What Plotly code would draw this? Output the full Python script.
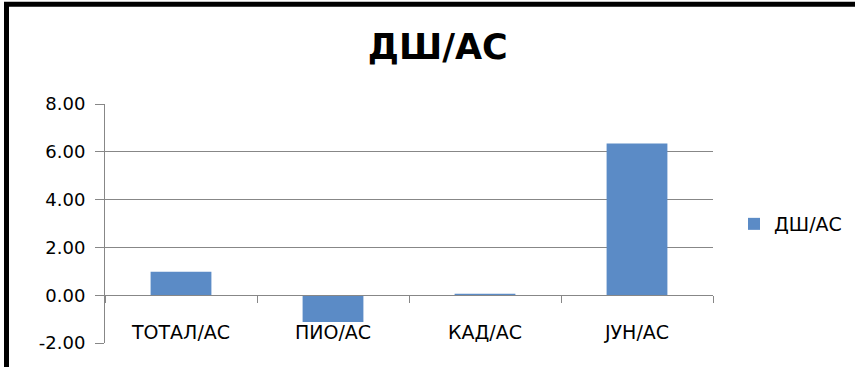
import plotly.graph_objects as go

categories = ["ТОТАЛ/АС", "ПИО/АС", "КАД/АС", "ЈУН/АС"]
values = [0.98, -1.12, 0.06, 6.35]
series_name = "ДШ/АС"
chart_title = "ДШ/АС"
y_tick_values = [-2, 0, 2, 4, 6, 8]
y_tick_labels = ["-2.00", "0.00", "2.00", "4.00", "6.00", "8.00"]

W, H = 855, 367
L, R, T, B = 105, 142, 104, 24
plot_w = W - L - R
plot_h = H - T - B

def px_to_paper_x(px):
    return (px - L) / plot_w

def px_to_paper_y(py):
    return (H - B - py) / plot_h

grid_col = "#878787"
font_fam = "DejaVu Sans"
y_min, y_max = y_tick_values[0], y_tick_values[-1]

fig = go.Figure()
fig.add_trace(go.Bar(
    x=categories, y=values, name=series_name,
    marker=dict(color="#5B8BC6", line=dict(width=0)),
    width=0.4, showlegend=True,
))

zero_pos = (0 - y_min) / (y_max - y_min)

fig.update_layout(
    width=W, height=H,
    margin=dict(l=L, r=R, t=T, b=B, pad=0, autoexpand=False),
    paper_bgcolor="white", plot_bgcolor="white",
    title=dict(text="<b>" + chart_title + "</b>", x=0.512, xref="container", xanchor="center",
               y=1 - 47 / H, yref="container", yanchor="middle",
               font=dict(family=font_fam, size=35, color="#000000")),
    font=dict(family=font_fam, size=18, color="#000000"),
    showlegend=True,
    legend=dict(x=px_to_paper_x(734), xanchor="left", y=px_to_paper_y(224), yanchor="middle",
                font=dict(family=font_fam, size=19, color="#000000"),
                bgcolor="rgba(0,0,0,0)", borderwidth=0),
    xaxis=dict(
        type="category", anchor="free", position=zero_pos,
        showline=True, linecolor=grid_col, linewidth=1,
        ticks="outside", tickson="boundaries", ticklen=7, tickcolor=grid_col, tickwidth=1,
        showgrid=False, ticklabelstandoff=20,
        tickfont=dict(family=font_fam, size=19, color="#000000"),
        range=[-0.5, len(categories) - 0.5], fixedrange=True,
    ),
    yaxis=dict(
        range=[y_min, y_max], tickmode="array", tickvals=y_tick_values, ticktext=y_tick_labels,
        showline=True, linecolor=grid_col, linewidth=1,
        showgrid=True, gridcolor=grid_col, gridwidth=1,
        ticks="outside", ticklen=9, tickcolor=grid_col, tickwidth=1,
        zeroline=False, ticklabelstandoff=6,
        tickfont=dict(family=font_fam, size=18, color="#000000"),
    ),
    shapes=[dict(type="rect", xref="paper", yref="paper",
                 x0=px_to_paper_x(6.5), x1=px_to_paper_x(900),
                 y0=px_to_paper_y(420), y1=px_to_paper_y(4.3),
                 line=dict(color="#000000", width=5), fillcolor="rgba(0,0,0,0)", layer="above")],
)

fig.write_html("out.html")
